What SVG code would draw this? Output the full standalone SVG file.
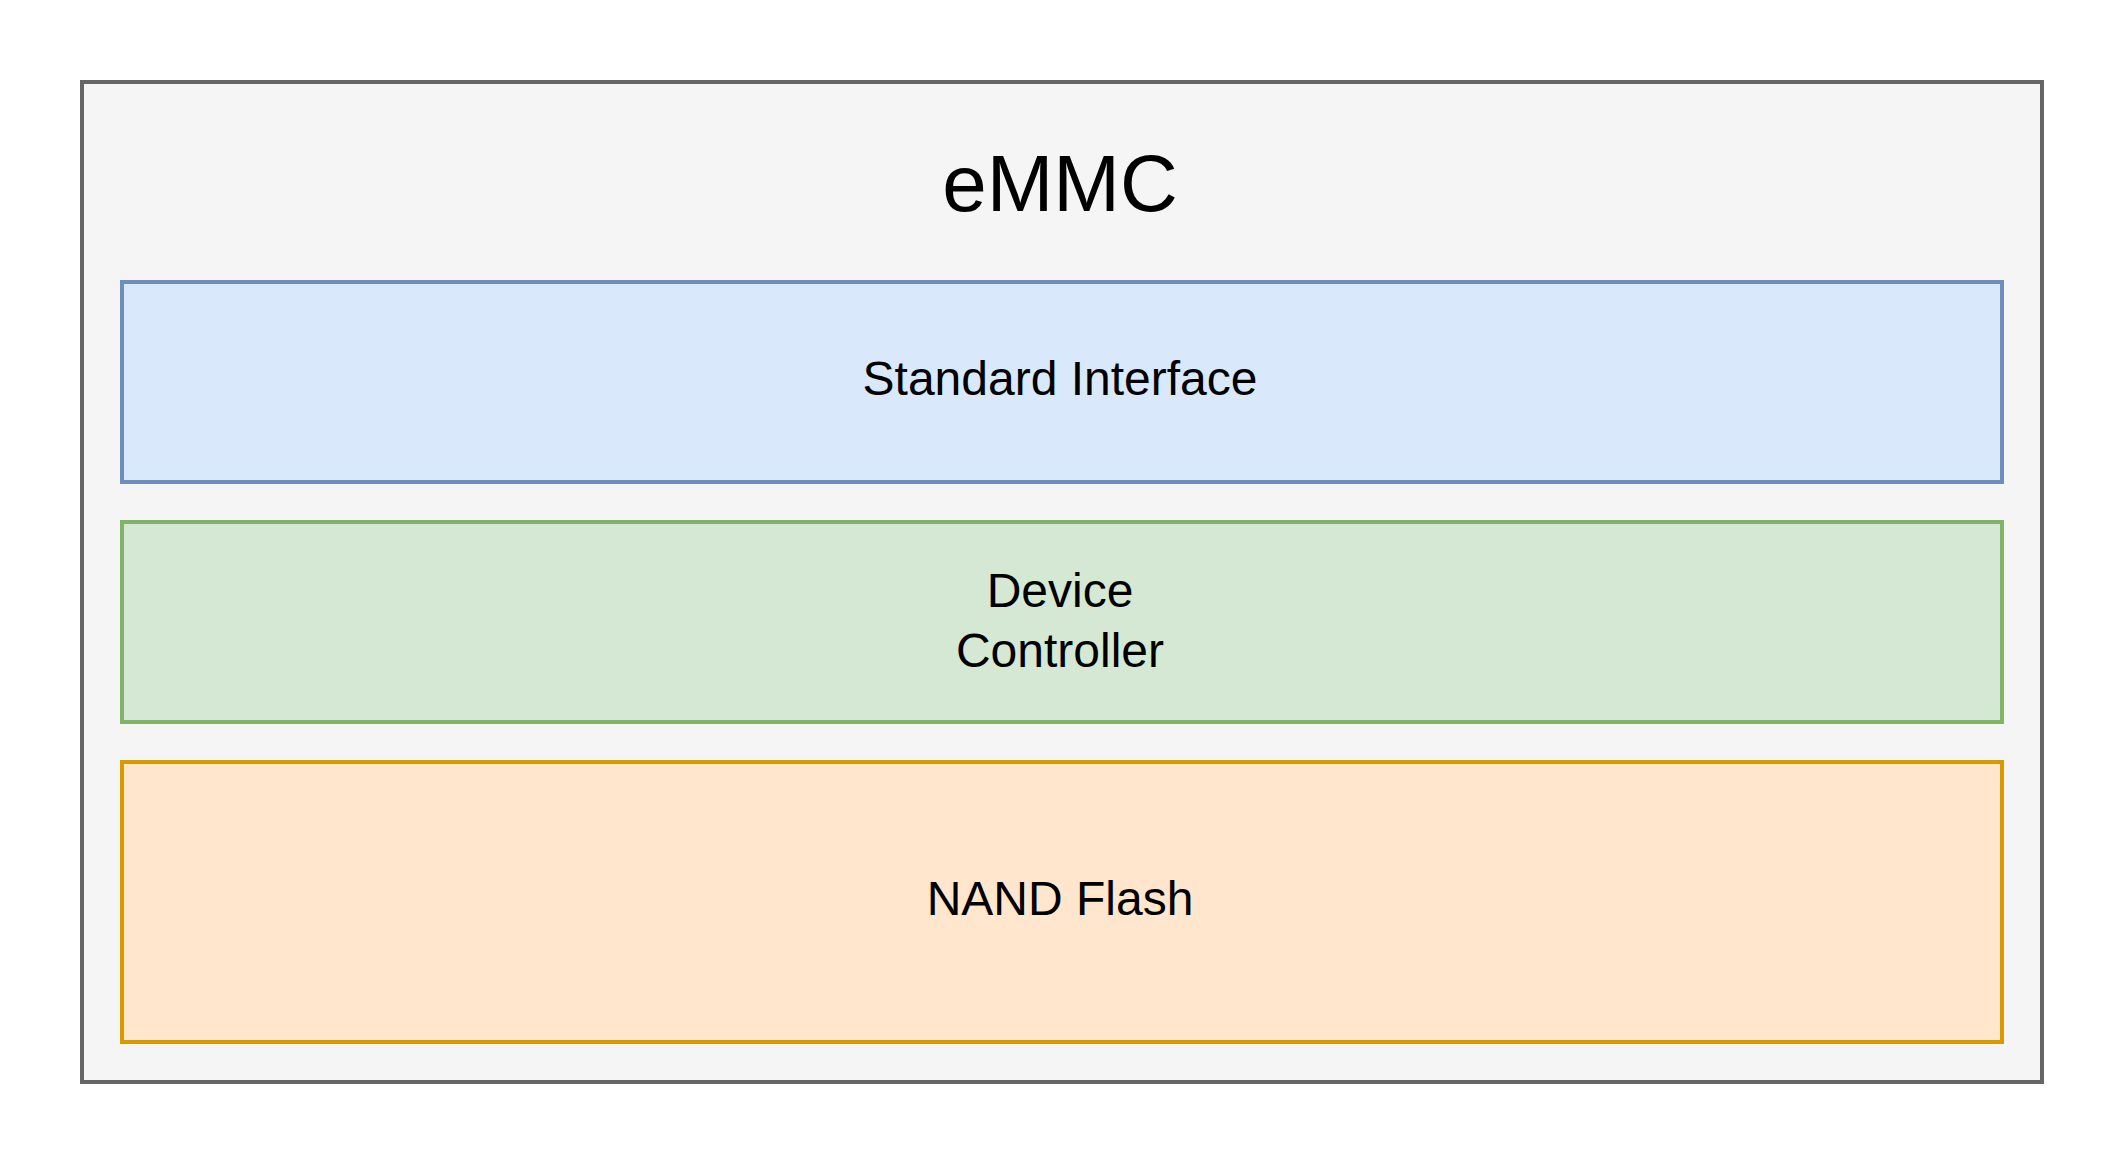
<svg xmlns="http://www.w3.org/2000/svg" width="2128" height="1168" viewBox="0 0 2128 1168">
<style>
text{font-family:"Liberation Sans",Arial,sans-serif;fill:#000;text-anchor:middle}
.lbl{font-size:48px}
.box{stroke-width:4}
</style>
<rect width="2128" height="1168" fill="#ffffff"/>
<g id="emmc">
<rect class="box" x="82" y="82" width="1960" height="1000" fill="#f5f5f5" stroke="#666666"/>
<text x="1060" y="211" style="font-size:80px">eMMC</text>
</g>
<g id="standard-interface">
<rect class="box" x="122" y="282" width="1880" height="200" fill="#dae8fc" stroke="#6c8ebf"/>
<text class="lbl" x="1060" y="395">Standard Interface</text>
</g>
<g id="device-controller">
<rect class="box" x="122" y="522" width="1880" height="200" fill="#d5e8d4" stroke="#82b366"/>
<text class="lbl" x="1060" y="607">Device</text>
<text class="lbl" x="1060" y="667">Controller</text>
</g>
<g id="nand-flash">
<rect class="box" x="122" y="762" width="1880" height="280" fill="#ffe6cc" stroke="#d79b00"/>
<text class="lbl" x="1060" y="915">NAND Flash</text>
</g>
<g id="connectors"></g>
</svg>
